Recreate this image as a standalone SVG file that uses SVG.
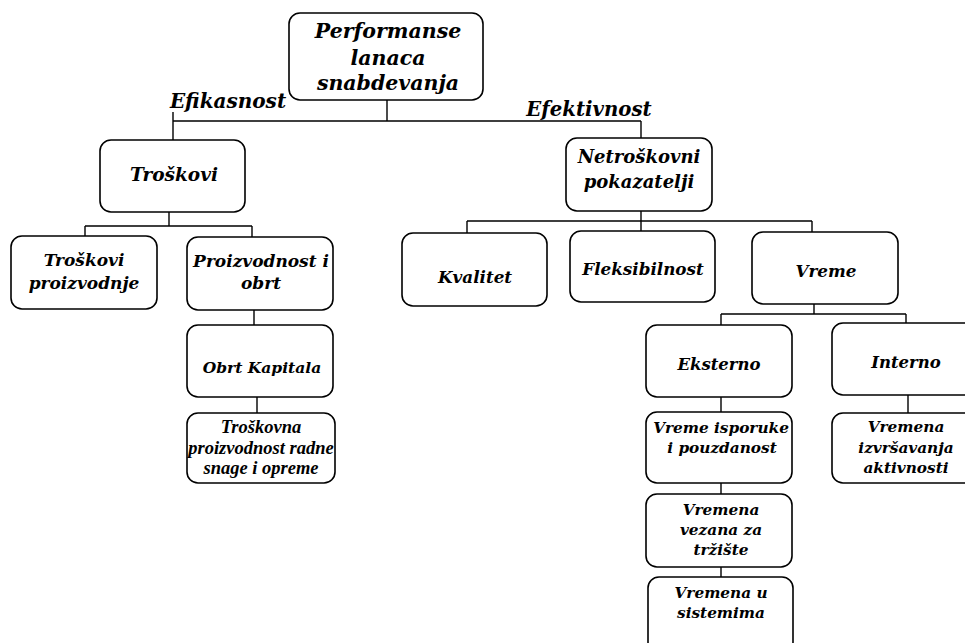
<svg xmlns="http://www.w3.org/2000/svg" width="965" height="643" viewBox="0 0 965 643">
<style>
.box{fill:#fff;stroke:#000;stroke-width:1.6}
.ln{fill:none;stroke:#000;stroke-width:1.4}
text{font-family:"DejaVu Serif","Liberation Serif",serif;font-weight:bold;font-style:italic;fill:#000;text-anchor:middle}
.tnr{font-family:"Liberation Serif","Times New Roman",serif}
</style>
<rect width="965" height="643" fill="#fff"/>
<g id="connectors">
<path class="ln" d="M387 100V121M173 121H641M173 112V140M641 121V138"/>
<path class="ln" d="M169 212V226M85 226H252M85 226V236M252 226V237M254 310V325M257 397V413"/>
<path class="ln" d="M641 211V231M467 221H812M467 221V233M812 221V232"/>
<path class="ln" d="M814 304V314M721 314H906M721 314V325M906 314V323M721 397V412M908 395V413M721 483V494M721 567V577"/>
</g>
<g id="labels">
<text x="228" y="108" style="font-size:20px">Efikasnost</text>
<text x="589" y="116" style="font-size:19.7px">Efektivnost</text>
</g>
<g id="n-root">
<rect class="box" x="289" y="13" width="194" height="87" rx="11"/>
<text style="font-size:20.5px"><tspan x="388" y="38">Performanse</tspan><tspan x="388" y="65">lanaca</tspan><tspan x="388" y="90">snabdevanja</tspan></text>
</g>
<g id="n-troskovi">
<rect class="box" x="100" y="140" width="145" height="72" rx="11"/>
<text x="174" y="181" style="font-size:18.5px">Troškovi</text>
</g>
<g id="n-troskovi-proizvodnje">
<rect class="box" x="11" y="236" width="146" height="73" rx="11"/>
<text style="font-size:17px"><tspan x="84" y="266">Troškovi</tspan><tspan x="84" y="289">proizvodnje</tspan></text>
</g>
<g id="n-proizvodnost">
<rect class="box" x="187" y="237" width="146" height="73" rx="11"/>
<text style="font-size:17px"><tspan x="261" y="267">Proizvodnost i</tspan><tspan x="261" y="289">obrt</tspan></text>
</g>
<g id="n-obrt">
<rect class="box" x="187" y="325" width="146" height="72" rx="11"/>
<text x="262" y="373" style="font-size:15.5px">Obrt Kapitala</text>
</g>
<g id="n-troskovna">
<rect class="box" x="187" y="413" width="148" height="70" rx="11"/>
<text class="tnr" style="font-size:18.5px"><tspan x="261" y="433">Troškovna</tspan><tspan x="261" y="454">proizvodnost radne</tspan><tspan x="261" y="474">snage i opreme</tspan></text>
</g>
<g id="n-netroskovni">
<rect class="box" x="566" y="138" width="146" height="73" rx="11"/>
<text style="font-size:18px"><tspan x="639" y="163">Netroškovni</tspan><tspan x="639" y="188">pokazatelji</tspan></text>
</g>
<g id="n-kvalitet">
<rect class="box" x="402" y="233" width="145" height="73" rx="11"/>
<text x="475" y="283" style="font-size:16.8px">Kvalitet</text>
</g>
<g id="n-fleksibilnost">
<rect class="box" x="570" y="231" width="145" height="71" rx="11"/>
<text x="643" y="275" style="font-size:16.8px">Fleksibilnost</text>
</g>
<g id="n-vreme">
<rect class="box" x="752" y="232" width="146" height="72" rx="11"/>
<text x="826" y="277" style="font-size:16.8px">Vreme</text>
</g>
<g id="n-eksterno">
<rect class="box" x="646" y="325" width="146" height="72" rx="11"/>
<text x="719" y="370" style="font-size:16.5px">Eksterno</text>
</g>
<g id="n-interno">
<rect class="box" x="832" y="323" width="146" height="72" rx="11"/>
<text x="906" y="368" style="font-size:16.5px">Interno</text>
</g>
<g id="n-vreme-isporuke">
<rect class="box" x="646" y="412" width="146" height="71" rx="11"/>
<text style="font-size:15.3px"><tspan x="721" y="433">Vreme isporuke</tspan><tspan x="722" y="453">i pouzdanost</tspan></text>
</g>
<g id="n-vremena-izvrsavanja">
<rect class="box" x="832" y="413" width="146" height="70" rx="11"/>
<text style="font-size:15.3px"><tspan x="906" y="432">Vremena</tspan><tspan x="906" y="453">izvršavanja</tspan><tspan x="906" y="473">aktivnosti</tspan></text>
</g>
<g id="n-vremena-vezana">
<rect class="box" x="646" y="494" width="146" height="73" rx="11"/>
<text style="font-size:15.3px"><tspan x="721" y="515">Vremena</tspan><tspan x="721" y="535">vezana za</tspan><tspan x="721" y="555">tržište</tspan></text>
</g>
<g id="n-vremena-sistemima">
<rect class="box" x="648" y="577" width="145" height="76" rx="11"/>
<text style="font-size:15.3px"><tspan x="721" y="598">Vremena u</tspan><tspan x="721" y="618">sistemima</tspan></text>
</g>
</svg>
